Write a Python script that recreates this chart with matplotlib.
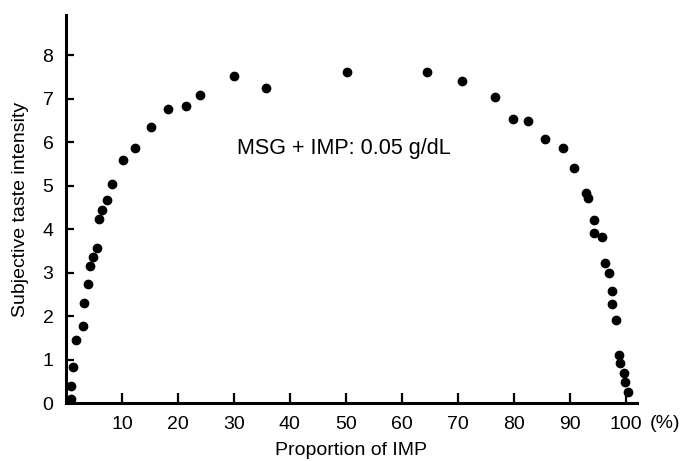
import numpy as np
import matplotlib
matplotlib.use("Agg")
import matplotlib.pyplot as plt

plt.rcParams['font.family'] = ['Liberation Sans', 'DejaVu Sans']

# proportion of IMP (%) and subjective taste intensity
imp_pct = [0.9, 0.9, 1.3, 1.8, 3.1, 3.2, 3.9, 4.2, 4.8, 5.5,
           5.9, 6.5, 7.4, 8.3, 10.2, 12.3, 15.1, 18.2, 21.4, 23.9,
           30.1, 35.8, 50.2, 64.4, 70.8, 76.7, 79.9, 82.6, 85.5, 88.7,
           90.8, 92.8, 93.3, 94.3, 94.3, 95.7, 96.3, 97.0, 97.6, 97.5,
           98.2, 98.8, 98.9, 99.6, 99.8, 100.4]
intensity = [0.10, 0.38, 0.82, 1.45, 1.78, 2.31, 2.74, 3.15, 3.36, 3.56,
             4.24, 4.44, 4.67, 5.03, 5.59, 5.86, 6.34, 6.75, 6.83, 7.07,
             7.52, 7.24, 7.60, 7.62, 7.41, 7.04, 6.52, 6.49, 6.08, 5.86,
             5.41, 4.83, 4.72, 4.21, 3.90, 3.82, 3.21, 2.98, 2.58, 2.28,
             1.90, 1.11, 0.91, 0.68, 0.48, 0.25]

x_ticks = [10, 20, 30, 40, 50, 60, 70, 80, 90, 100]
y_ticks = [0, 1, 2, 3, 4, 5, 6, 7, 8]

fig = plt.figure(figsize=(6.81, 4.61), dpi=100)
ax = fig.add_axes([0.0969, 0.1258, 0.8385, 0.8416])

ax.scatter(imp_pct, intensity, s=36, color='black', zorder=3, clip_on=False)

ax.set_xlim(0, 102)
ax.set_ylim(0, 8.92)
ax.set_xticks(x_ticks)
ax.set_yticks(y_ticks)

for side in ['top', 'right']:
    ax.spines[side].set_visible(False)
for side in ['left', 'bottom']:
    ax.spines[side].set_linewidth(2.2)

ax.tick_params(axis='x', direction='in', length=7, width=1.6, pad=9, labelsize=14)
ax.tick_params(axis='y', direction='in', length=6, width=1.6, pad=9, labelsize=14)

ax.set_xlabel('Proportion of IMP', fontsize=14, labelpad=7)
ax.set_ylabel('Subjective taste intensity', fontsize=14, labelpad=10)

# unit after the last tick label
ax.text(107, -0.47, '(%)', fontsize=14, ha='center', va='center', clip_on=False)

ax.text(49.6, 5.86, 'MSG + IMP: 0.05 g/dL', fontsize=15.5, ha='center', va='center')

fig.savefig('out.png', dpi=100)
